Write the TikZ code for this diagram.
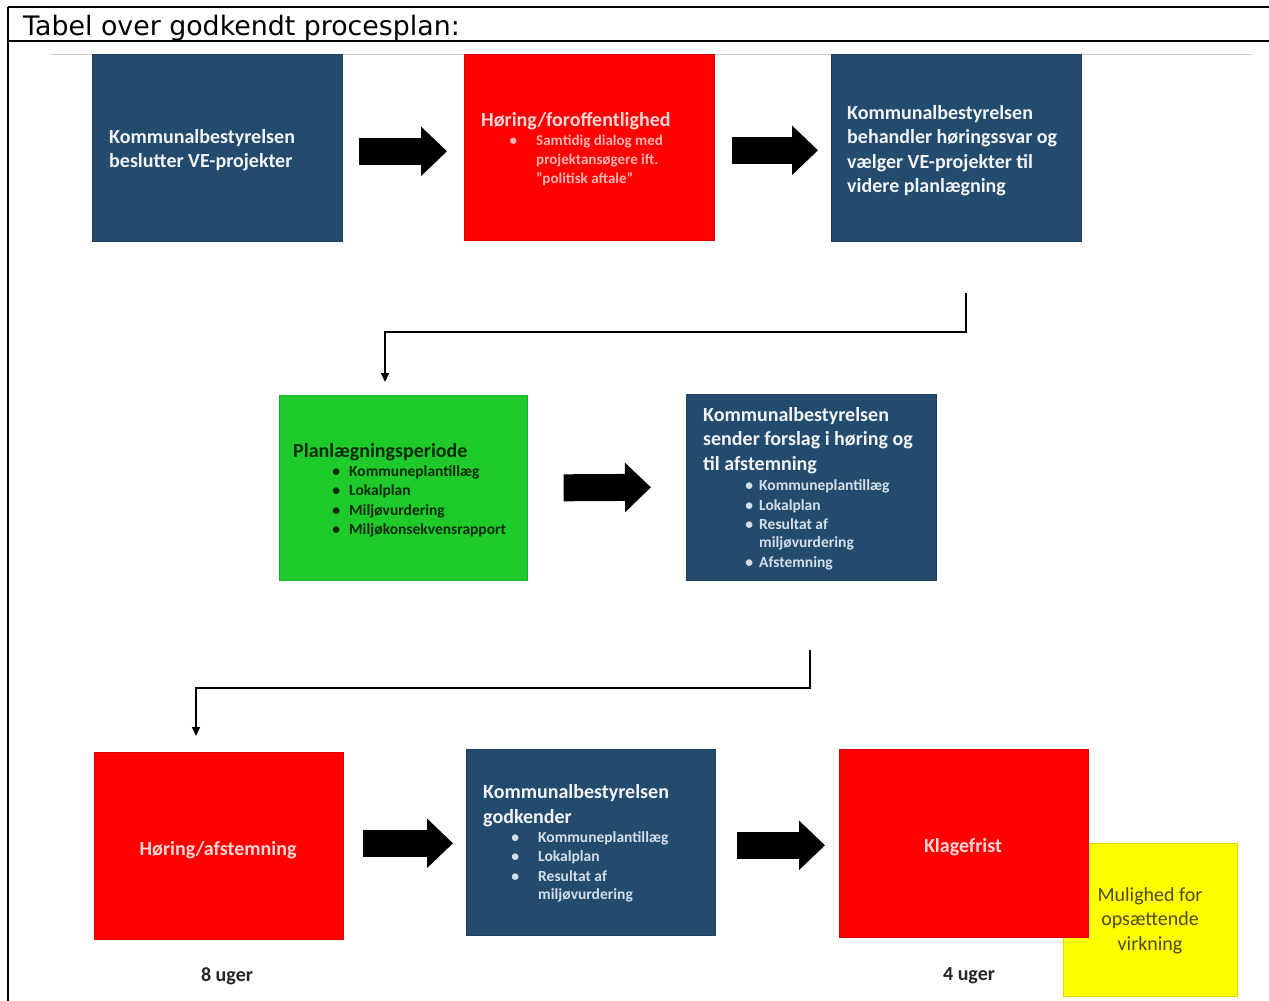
\documentclass[tikz,border=0pt]{standalone}
\usepackage{fontspec}
\setmainfont{Carlito}
\newfontfamily\headfont{DejaVu Sans}
\usetikzlibrary{arrows.meta}
\definecolor{boxblue}{HTML}{234B6D}
\definecolor{boxred}{HTML}{FF0000}
\definecolor{boxgreen}{HTML}{1FCB2B}
\definecolor{boxyellow}{HTML}{FFFF00}
\definecolor{pinktext}{HTML}{FFD6D6}
\definecolor{pinkbullet}{HTML}{FFB3B3}
\definecolor{bluetext}{HTML}{F2F4F7}
\definecolor{bluebullet}{HTML}{D5DEE8}
\definecolor{greentext}{HTML}{0B2A0B}
\definecolor{olivetext}{HTML}{4F4A1C}
\begin{document}
\begin{tikzpicture}[x=1pt,y=-1pt,
  box/.style={fill=#1, draw=#1!85!black, line width=0.6pt, inner sep=0pt, anchor=north west, minimum width=250pt, minimum height=187pt},
  title/.style={anchor=base west, inner sep=0pt, align=left, font=\bfseries\fontsize{20}{24.5}\selectfont},
  items/.style={anchor=base west, inner sep=0pt, align=left, font=\bfseries\fontsize{15.5}{19.5}\selectfont},
  centered/.style={anchor=base, inner sep=0pt, align=center, font=\bfseries\fontsize{20}{24.5}\selectfont},
  blockarrow/.style={line width=27pt, -{Triangle[length=26pt 0 0,width=48pt 0 0]}},
  conn/.style={line width=2pt, -{Triangle[length=9pt 0 0,width=8pt 0 0]}}
]
\useasboundingbox (0,0) rectangle (1269,1001);
\fill[white] (0,0) rectangle (1269,1001);
% table frame
\draw[line width=1.4pt] (8,7) -- (1269,7);
\draw[line width=1.4pt] (8,7) -- (8,1001);
\draw[line width=1.4pt] (8,41) -- (1269,41);
\node[anchor=base west, inner sep=0pt, font=\headfont\fontsize{26.8}{30}\selectfont] (head) at (23,35) {Tabel over godkendt procesplan:};
\draw[black!20, line width=0.8pt] (50,54) -- (1252,54);

% row 1
\node[box=boxblue] (b1) at (92,54) {};
\node[box=boxred, minimum height=186pt] (b2) at (464,54) {};
\node[box=boxblue] (b3) at (831,54) {};
\node[title, text=bluetext] (t1) at (109,167.5) {Kommunalbestyrelsen\\beslutter VE-projekter};
\node[title, text=pinktext] (t2) at (481,126) {Høring/foroffentlighed};
\node[items, text=pinkbullet, font=\bfseries\fontsize{15}{19}\selectfont] (i2) at (536,183)
  {\llap{•\hspace{19pt}}Samtidig dialog med\\projektansøgere ift.\\”politisk aftale”};
\node[title, text=bluetext] (t3) at (847,192.5) {Kommunalbestyrelsen\\behandler høringssvar og\\vælger VE-projekter til\\videre planlægning};

\draw[blockarrow] ([xshift=16pt,yshift=-3.5pt]b1.east) -- ([xshift=-17pt,yshift=-4pt]b2.west);
\draw[blockarrow] ([xshift=17pt,yshift=-3pt]b2.east) -- ([xshift=-13pt,yshift=-2.5pt]b3.west);

% connector 1
\coordinate (c1s) at (966,293);
\coordinate (c1t) at (385,382);
\draw[conn] (c1s) -- ++(0,39) -| (c1t);

% row 2
\node[box=boxgreen, minimum width=248pt, minimum height=185pt] (b4) at (279,395) {};
\node[box=boxblue, minimum height=186pt] (b5) at (686,394) {};
\node[title, text=greentext] (t4) at (293,457) {Planlægningsperiode};
\node[items, text=greentext] (i4) at (349,534.5)
  {\llap{•\hspace{9pt}}Kommuneplantillæg\\\llap{•\hspace{9pt}}Lokalplan\\\llap{•\hspace{9pt}}Miljøvurdering\\\llap{•\hspace{9pt}}Miljøkonsekvensrapport};
\node[title, text=bluetext] (t5) at (703,470) {Kommunalbestyrelsen\\sender forslag i høring og\\til afstemning};
\node[items, text=bluebullet] (i5) at (759,567)
  {\llap{•\hspace{6pt}}Kommuneplantillæg\\\llap{•\hspace{6pt}}Lokalplan\\\llap{•\hspace{6pt}}Resultat af\\[-1.5pt]miljøvurdering\\\llap{•\hspace{6pt}}Afstemning};

\draw[blockarrow] ([xshift=36pt,yshift=0pt]b4.east) -- ([xshift=-35pt,yshift=0pt]b5.west);

% connector 2
\coordinate (c2s) at (810,650);
\coordinate (c2t) at (196,736);
\draw[conn] (c2s) -- ++(0,38) -| (c2t);

% row 3
\node[box=boxred, minimum width=249pt] (b6) at (94,752) {};
\node[box=boxblue, minimum width=249pt, minimum height=186pt] (b7) at (466,749) {};
\node[box=boxyellow, minimum width=174pt, minimum height=153pt] (b8) at (1063,843) {};
\node[box=boxred, minimum width=249pt, minimum height=188pt] (b9) at (839,749) {};

\node[centered, text=pinktext] (t6) at (218,855) {Høring/afstemning};
\node[centered, text=black!85] (w6) at (227,981) {8 uger};
\node[title, text=bluetext] (t7) at (483,823) {Kommunalbestyrelsen\\godkender};
\node[items, text=bluebullet] (i7) at (538,899)
  {\llap{•\hspace{19pt}}Kommuneplantillæg\\\llap{•\hspace{19pt}}Lokalplan\\\llap{•\hspace{19pt}}Resultat af\\[-1.5pt]miljøvurdering};
\node[centered, text=pinktext] (t9) at (963,852) {Klagefrist};
\node[centered, text=black!85] (w9) at (969,980) {4 uger};
\node[anchor=base, inner sep=0pt, align=center, text=olivetext, font=\fontsize{20}{24.5}\selectfont] (t8) at (1150,950) {Mulighed for\\opsættende\\virkning};

\draw[blockarrow] ([xshift=19pt,yshift=2.5pt]b6.east) -- ([xshift=-13pt,yshift=-1pt]b7.west);
\draw[blockarrow] ([xshift=21pt,yshift=-3pt]b7.east) -- ([xshift=-14pt,yshift=-2pt]b9.west);
\end{tikzpicture}
\end{document}
